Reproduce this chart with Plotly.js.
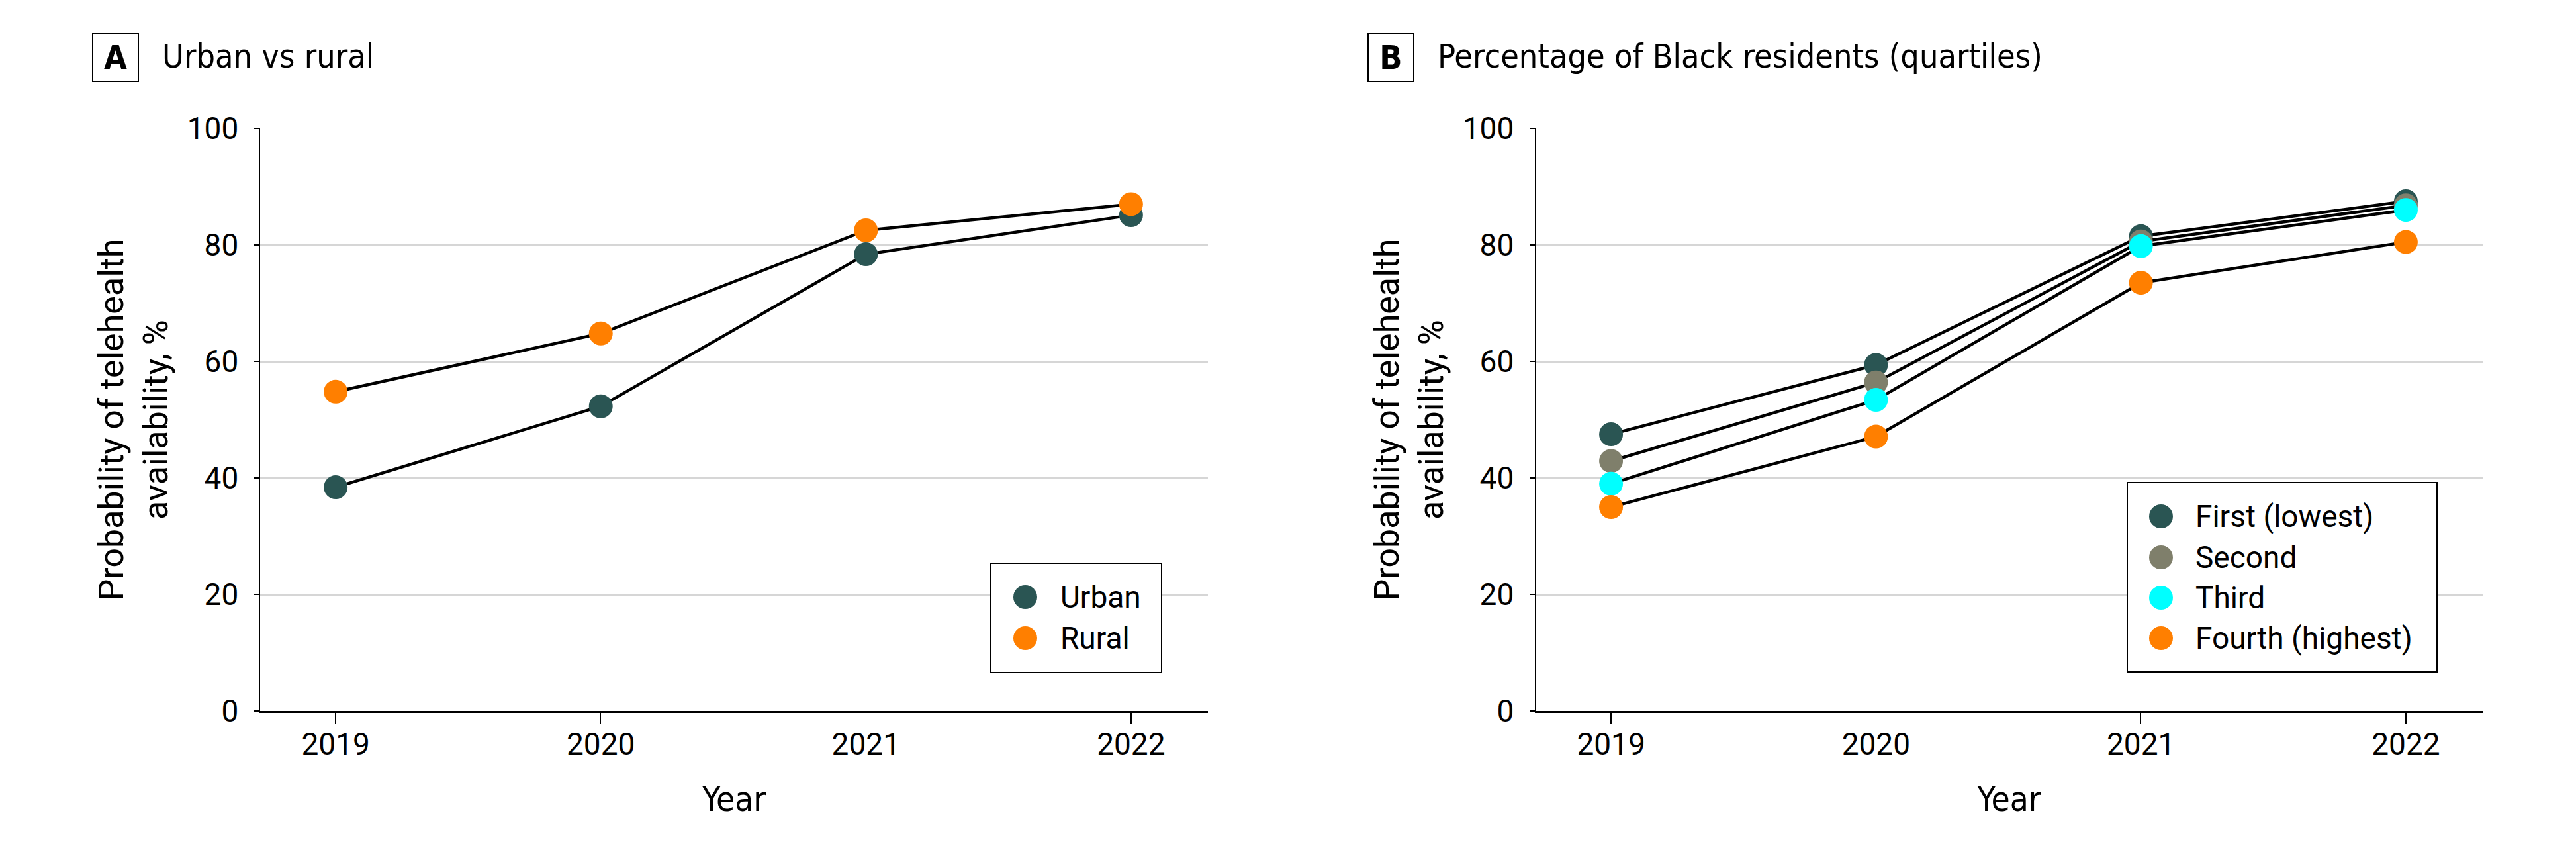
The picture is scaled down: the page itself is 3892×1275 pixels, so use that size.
<!DOCTYPE html>
<html>
<head>
<meta charset="utf-8">
<script src="https://cdn.plot.ly/plotly-3.0.1.min.js"></script>
<style>
html, body { margin: 0; padding: 0; background: #ffffff; }
#chart { width: 3892px; height: 1275px; }
</style>
</head>
<body>
<div id="chart"></div>
<script>
// ---------------- data ----------------
const years = [2019, 2020, 2021, 2022];
const yTicks = [0, 20, 40, 60, 80, 100];
const panelLetters = ['A', 'B'];
const panelTitles = ['Urban vs rural', 'Percentage of Black residents (quartiles)'];
const xTitleText = 'Year';
const yTitleText = 'Probability of telehealth<br>availability, %';

const namesA = ['Urban', 'Rural'];
const urban = [38.4, 52.3, 78.4, 85.1];
const rural = [54.8, 64.8, 82.5, 87.0];

const namesB = ['First (lowest)', 'Second', 'Third', 'Fourth (highest)'];
const firstQ = [47.5, 59.4, 81.5, 87.5];
const secondQ = [42.9, 56.4, 80.6, 86.8];
const thirdQ = [39.0, 53.4, 79.8, 86.0];
const fourthQ = [35.0, 47.1, 73.5, 80.5];

// ---------------- style ----------------
const W = 3892, H = 1275;
const TEAL = '#2A5553', GRAY = '#7F7F6B', CYAN = '#00FFFF', ORANGE = '#FF7F00';
const colorsA = [TEAL, ORANGE];
const colorsB = [TEAL, GRAY, CYAN, ORANGE];
const FONT_NARROW = '"Liberation Sans Narrow", "DejaVu Sans Condensed", Roboto, sans-serif';
const FONT_MAIN = 'Roboto, "Liberation Sans", sans-serif';
const MARKER = 36;

const px = v => v / W;
const py = v => 1 - v / H;

// panel geometry (pixels)
const panels = [
  { left: 393, right: 1825 },
  { left: 2320, right: 3751 }
];
const plotTop = 194, plotBottom = 1074;

// ---------------- traces ----------------
const traces = [];
function addPanel(series, names, colors, ax, ay) {
  series.forEach((s) => {
    traces.push({
      x: years, y: s, xaxis: ax, yaxis: ay, mode: 'lines',
      line: { color: '#000000', width: 4.5 }, showlegend: false, hoverinfo: 'skip'
    });
  });
  series.forEach((s, i) => {
    traces.push({
      x: years, y: s, xaxis: ax, yaxis: ay, mode: 'markers', name: names[i],
      marker: { size: MARKER, color: colors[i], line: { width: 0 } }, showlegend: false
    });
  });
}
addPanel([urban, rural], namesA, colorsA, 'x', 'y');
addPanel([firstQ, secondQ, thirdQ, fourthQ], namesB, colorsB, 'x2', 'y2');

// ---------------- axes ----------------
function xAxis(p, anchor) {
  return {
    domain: [px(p.left), px(p.right)], anchor: anchor,
    range: [2018.715, 2022.29], tickvals: years, ticktext: years.map(String),
    ticks: 'outside', ticklen: 17, tickwidth: 1.5, tickcolor: '#000',
    showline: true, linecolor: '#000', linewidth: 2.5,
    showgrid: false, zeroline: false, fixedrange: true,
    tickfont: { family: FONT_MAIN, size: 46, color: '#000' },
    ticklabelstandoff: -9,
    title: { text: xTitleText, font: { family: FONT_NARROW, size: 51, color: '#000' }, standoff: 40 }
  };
}
function yAxis(p, anchor) {
  return {
    domain: [py(plotBottom), py(plotTop)], anchor: anchor,
    range: [0, 100], tickvals: yTicks, ticktext: yTicks.map(String),
    ticks: 'outside', ticklen: 8, tickwidth: 1.5, tickcolor: '#000',
    showline: true, linecolor: '#000', linewidth: 1.5,
    showgrid: true, gridcolor: '#d6d6d6', gridwidth: 3, zeroline: false, fixedrange: true,
    tickfont: { family: FONT_MAIN, size: 46, color: '#000' },
    ticklabelstandoff: 14,
    title: { text: yTitleText, font: { family: FONT_MAIN, size: 52, color: '#000' }, standoff: 12 }
  };
}

// ---------------- annotations & shapes ----------------
const annotations = [];
const shapes = [];

panels.forEach((p, k) => {
  const boxLeft = p.left - 252, boxRight = p.left - 185;
  annotations.push({
    xref: 'paper', yref: 'paper', x: px((boxLeft + boxRight) / 2), y: py(87),
    xanchor: 'center', yanchor: 'middle', text: '<b>' + panelLetters[k] + '</b>',
    showarrow: false, width: boxRight - boxLeft, height: 70,
    bordercolor: '#000', borderwidth: 2, borderpad: 0,
    font: { family: FONT_NARROW, size: 50, color: '#000' }
  });
  annotations.push({
    xref: 'paper', yref: 'paper', x: px(p.left - 150), y: py(85),
    xanchor: 'left', yanchor: 'middle', text: panelTitles[k], showarrow: false,
    font: { family: FONT_NARROW, size: 50, color: '#000' }
  });
});

// custom legends (larger swatches than the built-in legend allows)
function addLegend(box, names, colors, rowY, markerX, textX) {
  shapes.push({
    type: 'rect', xref: 'paper', yref: 'paper',
    x0: px(box[0]), x1: px(box[1]), y0: py(box[3]), y1: py(box[2]),
    line: { color: '#000', width: 2 }, fillcolor: '#ffffff', layer: 'above'
  });
  names.forEach((n, i) => {
    const r = MARKER / 2;
    shapes.push({
      type: 'circle', xref: 'paper', yref: 'paper',
      x0: px(markerX - r), x1: px(markerX + r), y0: py(rowY[i] + r), y1: py(rowY[i] - r),
      fillcolor: colors[i], line: { width: 0 }, layer: 'above'
    });
    annotations.push({
      xref: 'paper', yref: 'paper', x: px(textX), y: py(rowY[i]),
      xanchor: 'left', yanchor: 'middle', text: n, showarrow: false,
      font: { family: FONT_MAIN, size: 46, color: '#000' }
    });
  });
}
addLegend([1497, 1755, 851, 1016], namesA, colorsA, [902, 964], 1549, 1600);
addLegend([3214, 3682, 729, 1015], namesB, colorsB, [780, 842, 903, 964], 3265, 3315);

const layout = {
  width: W, height: H,
  margin: { l: 0, r: 0, t: 0, b: 0, pad: 0 },
  paper_bgcolor: '#ffffff', plot_bgcolor: '#ffffff',
  showlegend: false,
  xaxis: xAxis(panels[0], 'y'),
  yaxis: yAxis(panels[0], 'x'),
  xaxis2: xAxis(panels[1], 'y2'),
  yaxis2: yAxis(panels[1], 'x2'),
  annotations: annotations,
  shapes: shapes,
  font: { family: FONT_MAIN, color: '#000' }
};

Plotly.newPlot('chart', traces, layout, { staticPlot: true, displayModeBar: false });
</script>
</body>
</html>
